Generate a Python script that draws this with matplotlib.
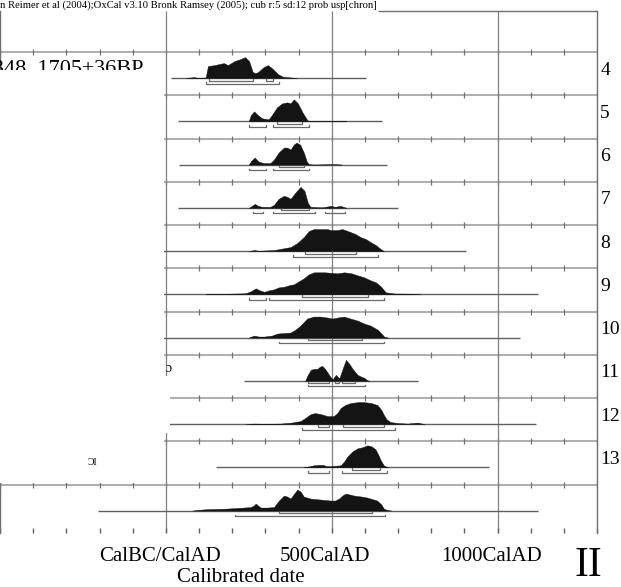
import numpy as np
import matplotlib
matplotlib.use('Agg')
import matplotlib.pyplot as plt
from matplotlib.patches import Rectangle

plt.rcParams['font.family'] = ['Liberation Serif', 'DejaVu Serif']

header = 'n Reimer et al (2004);OxCal v3.10 Bronk Ramsey (2005); cub r:5 sd:12 prob usp[chron]'
row_labels = ['4', '5', '6', '7', '8', '9', '10', '11', '12', '13', '']
axis_labels = ['CalBC/CalAD', '500CalAD', '1000CalAD']
axis_years = [0, 500, 1000]

# probability curves, year AD / relative height
yr_4 = [60, 85, 95, 120, 127, 147, 175, 187, 207, 225, 239, 251, 262, 270, 278, 295, 308, 323, 338, 353, 378, 395]
p_4 = [0, 1, 0.3, 0.5, 12, 13, 15, 13, 17, 19, 21, 17, 6, 5, 6, 11, 13, 9, 4, 1.3, 0.6, 0]
yr_5 = [250, 256, 266, 275, 290, 310, 321, 335, 351, 366, 376, 386, 398, 412, 427, 440, 495, 525, 545]
p_5 = [0, 6, 10, 7, 3, 2, 7, 14, 18, 19, 18, 22, 18, 9, 1, 0, 0.3, 0.4, 0]
yr_6 = [250, 258, 268, 280, 295, 315, 326, 340, 356, 366, 376, 386, 394, 405, 416, 425, 431, 445, 490, 510, 530]
p_6 = [0, 4, 7, 3, 1.5, 1.5, 5, 12, 17, 17, 15, 20, 22, 20, 12, 3, 0.5, 0, 0.3, 0.4, 0]
yr_7 = [250, 260, 268, 278, 290, 315, 326, 340, 356, 366, 376, 390, 406, 418, 428, 436, 470, 490, 497, 510, 527, 535, 545]
p_7 = [0, 2, 4, 2, 1, 1, 3, 9, 12, 11, 9, 15, 21, 17, 5, 1, 0.5, 1.5, 2, 1, 2, 1, 0]
yr_8 = [250, 266, 280, 326, 351, 376, 396, 416, 431, 446, 470, 487, 497, 517, 532, 557, 572, 587, 603, 617, 633, 648, 658]
p_8 = [0, 1, 0.3, 1, 2.5, 4, 8, 14, 20, 22, 22, 22, 21, 21, 22, 19, 17, 14, 12, 9, 6, 2, 0]
yr_9 = [120, 150, 240, 256, 271, 283, 296, 311, 326, 341, 356, 371, 386, 401, 416, 431, 446, 480, 517, 538, 560, 578, 598, 617, 633, 648, 663, 690, 740, 768]
p_9 = [0, 0.3, 1, 3, 6, 4, 2.5, 4, 5, 7, 7.5, 9, 10, 13, 16, 20, 22, 22, 21, 22, 21, 19, 17, 14, 12, 8, 2, 0.8, 0.6, 0]
yr_10 = [250, 266, 280, 296, 320, 336, 356, 376, 391, 406, 426, 446, 466, 487, 502, 517, 537, 557, 578, 598, 617, 638, 650, 658, 670]
p_10 = [0, 2, 1, 1, 2, 4, 4.5, 5, 8, 12, 19, 21, 21, 20, 19, 20, 21, 19, 17, 14, 12, 8, 4, 1, 0]
yr_11 = [420, 428, 437, 447, 457, 464, 471, 480, 488, 496, 503, 508, 513, 518, 523, 533, 543, 553, 563, 578, 590, 598, 608, 615]
p_11 = [0, 6, 11, 12, 12, 14, 15, 12, 8, 4, 1.5, 4, 6, 4, 2.5, 12, 21, 17, 12, 6, 4, 3, 0.5, 0]
yr_12 = [240, 266, 300, 346, 380, 406, 420, 437, 450, 467, 487, 506, 517, 527, 540, 557, 580, 596, 620, 638, 650, 656, 665, 677, 700, 729, 745, 759, 770, 780]
p_12 = [0, 0.5, 0.3, 0.5, 1.5, 3, 6, 10, 11, 10, 8, 8, 11, 16, 19, 21, 22, 22, 21, 19, 14, 10, 5, 2, 1, 0.5, 1, 1.5, 0.7, 0]
yr_13 = [415, 428, 446, 465, 473, 487, 510, 527, 538, 548, 563, 578, 592, 608, 620, 632, 640, 648, 657, 662, 671]
p_13 = [0, 0.7, 2, 2.5, 2.5, 1, 1.5, 2, 6, 11, 16, 19, 20, 22, 21, 18, 13, 7, 2, 1, 0]
yr_all = [80, 100, 130, 160, 186, 210, 236, 256, 265, 271, 278, 286, 306, 326, 341, 356, 366, 376, 387, 397, 406, 416, 436, 467, 497, 510, 522, 532, 542, 555, 567, 590, 607, 637, 650, 657, 668, 680]
p_all = [0, 0.8, 1.5, 1.7, 2, 2.5, 3, 3.5, 5, 7, 5, 3, 3, 3.5, 10, 15, 14, 12, 17, 21, 19, 14, 12, 11, 10, 10, 12, 15, 17, 16, 15, 14, 13, 10, 6, 2, 0.5, 0]

curve_years = [yr_4, yr_5, yr_6, yr_7, yr_8, yr_9, yr_10, yr_11, yr_12, yr_13, yr_all]
curve_probs = [p_4, p_5, p_6, p_7, p_8, p_9, p_10, p_11, p_12, p_13, p_all]

# extent of the thin line under each curve
spans = [(15, 605), (36, 653), (39, 668), (36, 699), (-150, 906), (-150, 1123),
         (-150, 1069), (235, 759), (-100, 1117), (150, 973), (-205, 1123)]
# 68.2% and 95.4% ranges
ranges_68 = [[(130, 262), (301, 322)], [(334, 412)], [(340, 416)], [(346, 431)],
             [(419, 572)], [(412, 611)], [(428, 590)],
             [(428, 491), (509, 521), (530, 569)], [(458, 491), (533, 659)],
             [(560, 645)], [(340, 623)]]
ranges_95 = [[(120, 340)], [(250, 301), (322, 431)], [(250, 301), (322, 431)],
             [(262, 292), (322, 449), (479, 539)], [(382, 641)],
             [(250, 301), (310, 659)], [(340, 659)], [(428, 599)], [(412, 690)],
             [(428, 491), (530, 668)], [(208, 662)]]

W, H = 621, 587
fig = plt.figure(figsize=(W / 100, H / 100), dpi=100)
ax = fig.add_axes([0, 1 - 533 / H, 597 / W, 522 / H])
ax.set_xlim(-500, 1300)
ax.set_ylim(12.12, 0.05)
ax.set_xticks([])
ax.set_yticks([])
for s in ['top', 'bottom']:
    ax.spines[s].set_visible(False)
for s in ['left', 'right']:
    ax.spines[s].set_color('#707070')
    ax.spines[s].set_linewidth(1.0)

px = 1 / 43.25  # one pixel in row units
ticks = np.arange(-500, 1301, 100)

for k in range(1, 12):
    ax.hlines(k, -500, 1300, color='#a0a0a0', lw=1.2, zorder=1)
    ax.vlines(ticks, k - 3 * px, k + 3 * px, color='#707070', lw=0.9, zorder=1)
ax.vlines(ticks, 12, 12.12, color='#606060', lw=1.0, clip_on=False)
ax.vlines(axis_years, 0.05, 12.12, color='#808080', lw=0.9, zorder=1)

for i in range(len(curve_years)):
    base = i + 1 + 26 * px
    ax.hlines(base, spans[i][0], spans[i][1], color='#606060', lw=1.0, zorder=2)
    yrs = np.array(curve_years[i])
    h = np.array(curve_probs[i]) * px
    ax.fill_between(yrs, base, base - h, color='#141414', lw=0.3, edgecolor='#141414', zorder=2)
    for a, b in ranges_68[i]:
        y = base + 2.5 * px
        ax.plot([a, a, b, b], [y - 1.5 * px, y, y, y - 1.5 * px], color='#6a6a6a', lw=0.9, zorder=2)
    for a, b in ranges_95[i]:
        y = base + 5.5 * px
        ax.plot([a, a, b, b], [y - 1.5 * px, y, y, y - 1.5 * px], color='#6a6a6a', lw=0.9, zorder=2)
    if row_labels[i]:
        ax.text(1310, i + 1 + 18 * px, row_labels[i], fontsize=14, ha='left', va='center',
                clip_on=False)

# leftover of the sample name, partly hidden by the white patch
ax.text(-66, 1 + 22.3 * px, '348  1705\u00b136BP', fontsize=16, ha='right', va='baseline', zorder=4)
ax.add_patch(Rectangle((-520, 1 + 18 * px), 514, 9.55, facecolor='white', lw=0, zorder=5))
ax.add_patch(Rectangle((-520, 8.49), 533.5, 1.31, facecolor='white', lw=0, zorder=5))
ax.text(10, 8.32, '\u0254', fontsize=10, ha='center', va='center', zorder=6)
ax.text(-222, 10.5, '\u0186I', fontsize=7, ha='center', va='center', zorder=6)

for yr, lab in zip(axis_years, axis_labels):
    ax.annotate(lab, (yr, 12.67), xytext=(-4.5, 0), textcoords='offset points',
                fontsize=15, ha='center', va='center', annotation_clip=False)
ax.text(225, 13.16, 'Calibrated date', fontsize=15, ha='center', va='center', clip_on=False)
ax.text(1274, 12.88, 'II', fontsize=30, ha='center', va='center', clip_on=False)

hdr = fig.text(0, 1 - 8 / H, header, fontsize=7.7, ha='left', va='baseline')
fig.canvas.draw()
bb = hdr.get_window_extent()
x_end = ax.transData.inverted().transform((bb.x1 + 1, 0))[0]
ax.hlines(0.05, x_end, 1300, color='#707070', lw=1.0, clip_on=False)

fig.savefig('out.png', dpi=100)
